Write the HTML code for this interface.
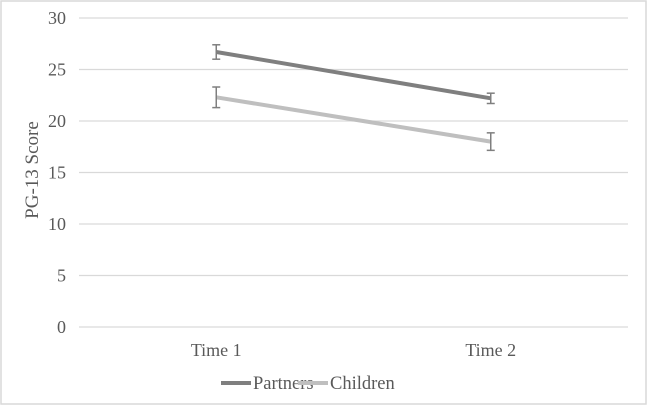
<!DOCTYPE html>
<html><head><meta charset="utf-8"><style>
body{margin:0;background:#fff}
svg{display:block;font-family:"Liberation Serif",serif}
</style></head><body>
<svg id="chart" width="650" height="408">
<rect x="1" y="1" width="645" height="403" fill="#fff" stroke="#d9d9d9" stroke-width="1.5"/>
<g id="grid"></g><g id="series"></g>
<text transform="translate(38,170) rotate(-90)" text-anchor="middle" font-size="19" fill="#595959">PG-13 Score</text>
<g>
<g><line x1="221" y1="383" x2="251" y2="383" stroke="#7f7f7f" stroke-width="4"/><text x="253" y="389" font-size="18.5" fill="#595959">Partners</text></g>
<g><line x1="298" y1="383" x2="328" y2="383" stroke="#bfbfbf" stroke-width="4"/><text x="330" y="389" font-size="18.5" fill="#595959">Children</text></g>
</g>
</svg>
<script>
const categories=["Time 1","Time 2"];
const yTicks=[0,5,10,15,20,25,30];
const partners=[26.7,22.2];
const partnersErr=[0.7,0.5];
const children=[22.3,18.0];
const childrenErr=[1.0,0.85];
const NS="http://www.w3.org/2000/svg";
const x0=79,x1=628,yTop=18,yBot=327;
const y=v=>yBot-(v/30)*(yBot-yTop);
const x=i=>x0+(x1-x0)*(i+0.5)/categories.length;
const grid=document.getElementById('grid'),ser=document.getElementById('series');
function mk(tag,attrs,parent){const e=document.createElementNS(NS,tag);for(const k in attrs)e.setAttribute(k,attrs[k]);parent.appendChild(e);return e;}
yTicks.forEach(t=>{
 const l=mk('line',{x1:x0,x2:x1,y1:y(t),y2:y(t),stroke:'#d9d9d9','stroke-width':1.3},grid);
 
 
 const tx=mk('text',{x:66,y:y(t)+6,'text-anchor':'end','font-size':18,fill:'#595959'},grid);
 tx.textContent=t;
 
 
});
categories.forEach((c,i)=>{
 const tx=mk('text',{x:x(i),y:356,'text-anchor':'middle','font-size':18,fill:'#595959'},grid);
 tx.textContent=c;
 
 
});
function draw(vals,errs,color,name){
 const pts=vals.map((v,i)=>x(i)+','+y(v)).join(' ');
 const pl=mk('polyline',{points:pts,fill:'none',stroke:color,'stroke-width':4},ser);
 
 
 vals.forEach((v,i)=>{
  const g=mk('g',{stroke:'#7f7f7f','stroke-width':1.5},ser);
  
  
  const cx=x(i),a=y(v+errs[i]),b=y(v-errs[i]);
  mk('line',{x1:cx,x2:cx,y1:a,y2:b},g);
  mk('line',{x1:cx-4,x2:cx+4,y1:a,y2:a},g);
  mk('line',{x1:cx-4,x2:cx+4,y1:b,y2:b},g);
 });
}
draw(partners,partnersErr,'#7f7f7f','partners');
draw(children,childrenErr,'#bfbfbf','children');
</script>
</body></html>
